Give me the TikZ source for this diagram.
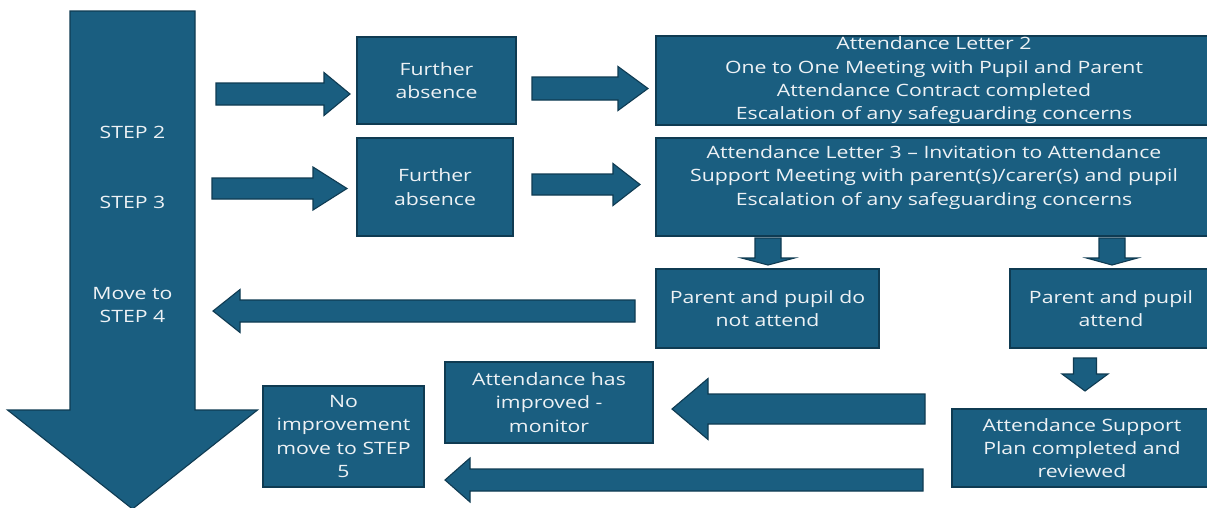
\documentclass[tikz,border=0pt]{standalone}
\usepackage{fontspec}
\setmainfont{Open Sans}[FakeStretch=1.25]
\definecolor{mainblue}{HTML}{1A5E80}
\definecolor{edgeblue}{HTML}{0F3B52}
\definecolor{txt}{HTML}{EEF2F5}
\newcommand{\harrow}[6]{% tail, headback, tip, yc, shaft half, head half
  \draw[blockarrow] (#1,#4-#5) -- (#2,#4-#5) -- (#2,#4-#6) -- (#3,#4) -- (#2,#4+#6) -- (#2,#4+#5) -- (#1,#4+#5) -- cycle;}
\newcommand{\varrow}[6]{% xc, tail, headback, tip, shaft half, head half
  \draw[blockarrow] (#1-#5,#2) -- (#1-#5,#3) -- (#1-#6,#3) -- (#1,#4) -- (#1+#6,#3) -- (#1+#5,#3) -- (#1+#5,#2) -- cycle;}
\tikzset{
  blockarrow/.style={fill=mainblue, draw=edgeblue, line width=1.1pt, line join=miter},
  box/.style={rectangle, fill=mainblue, draw=edgeblue, line width=1.1pt, text=txt,
    align=center, inner sep=0pt, font=\fontsize{17}{23.3}\selectfont},
  lbl/.style={text=txt, align=center, inner sep=0pt, font=\fontsize{17}{23.3}\selectfont}
}
\begin{document}
\begin{tikzpicture}[x=1pt,y=-1pt]
\useasboundingbox (0,0) rectangle (1207,507);
\fill[white] (0,0) rectangle (1207,507);
% big down arrow
\varrow{132.5}{11}{410}{509}{62.5}{125}
\node[lbl] (s2) at (132.5,132) {STEP 2};
\node[lbl] (s3) at (132.5,202) {STEP 3};
\node[lbl] (s4) at (132.5,305) {Move to\\STEP 4};
% horizontal arrows
\harrow{216}{324}{350}{94}{11}{21.5}
\harrow{532}{618}{648}{88.5}{11.5}{22}
\harrow{212}{313}{347}{188.5}{10.5}{21.5}
\harrow{532}{613}{640}{184.5}{10.5}{21}
\harrow{635}{240}{213}{311}{11}{21.5}
\harrow{925}{708}{672}{409}{15}{30.5}
\harrow{923}{470}{445}{480}{11}{22}
% small down arrows
\varrow{768}{238}{258}{265}{13}{26.5}
\varrow{1112}{238}{258}{265}{13}{25.5}
\varrow{1085}{358}{374}{391}{11.5}{23}
% boxes
\node[box, minimum width=159pt, minimum height=87pt] (fa1) at (436.5,80.5) {Further\\absence};
\node[box, minimum width=156pt, minimum height=98pt] (fa2) at (435,187) {Further\\absence};
\node[box, minimum width=556pt, minimum height=89pt] (l2) at (934,80.5) {Attendance Letter 2\\One to One Meeting with Pupil and Parent\\Attendance Contract completed\\Escalation of any safeguarding concerns};
\node[box, minimum width=556pt, minimum height=98pt] (l3) at (934,187) {Attendance Letter 3 -- Invitation to Attendance\\Support Meeting with parent(s)/carer(s) and pupil\\Escalation of any safeguarding concerns\\\mbox{}};
\node[box, minimum width=223pt, minimum height=79pt] (nat) at (767.5,308.5) {Parent and pupil do\\not attend};
\node[box, minimum width=202pt, minimum height=79pt] (att) at (1111,308.5) {Parent and pupil\\attend};
\node[box, minimum width=208pt, minimum height=81pt] (imp) at (549,402.5) {Attendance has\\improved -\\monitor};
\node[box, minimum width=161pt, minimum height=101pt] (noimp) at (343.5,436.5) {No\\improvement\\move to STEP\\5};
\node[box, minimum width=260pt, minimum height=78pt] (asp) at (1082,448) {Attendance Support\\Plan completed and\\reviewed};
\end{tikzpicture}
\end{document}
